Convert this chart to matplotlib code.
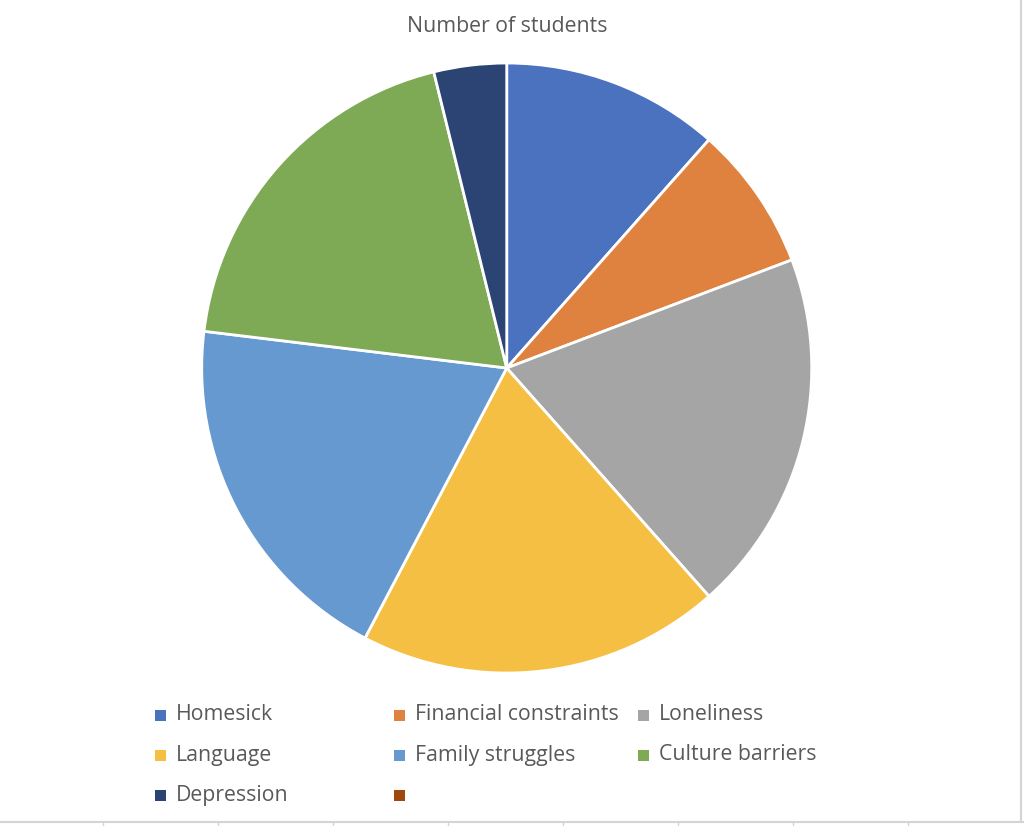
import matplotlib.pyplot as plt
from matplotlib.patches import Rectangle
from matplotlib.lines import Line2D

labels = ["Homesick", "Financial constraints", "Loneliness", "Language",
          "Family struggles", "Culture barriers", "Depression", ""]
students = [3, 2, 5, 5, 5, 5, 1, 0]
colors = ["#4A72BF", "#E0823F", "#A5A5A5", "#F4BF42",
          "#6699D0", "#7EAA55", "#2C4474", "#9E480E"]

plt.rcParams['font.family'] = ['Open Sans', 'DejaVu Sans']

fig = plt.figure(figsize=(10.24, 8.26), dpi=100)
ax = fig.add_axes([0.197, 0.1852, 0.5957, 0.7385])
ax.pie(students[:7], colors=colors[:7], startangle=90, counterclock=False,
       wedgeprops=dict(edgecolor="white", linewidth=2))
ax.set_xlim(-1.0, 1.0)
ax.set_ylim(-1.0, 1.0)
ax.set_aspect("equal")

fig.text(0.495, 0.9675, "Number of students", ha="center", va="center",
         fontsize=15.3, color="#595959")

# legend, 3 columns
col_x = [160, 399, 643]
row_y = [715, 755, 795]
for i, (lab, c) in enumerate(zip(labels, colors)):
    x = col_x[i % 3] / 1024
    y = 1 - row_y[i // 3] / 826
    fig.patches.append(Rectangle((x - 5.5 / 1024, y - 5.5 / 826), 11 / 1024, 11 / 826,
                                 transform=fig.transFigure, facecolor=c, edgecolor="none"))
    fig.text(x + 16 / 1024, y, lab, ha="left", va="center", fontsize=15.3, color="#595959")

# sheet grid remnants
by = 1 - 822 / 826
fig.lines.append(Line2D([0, 1], [by, by], transform=fig.transFigure, color="#d4d4d4", lw=1.5))
fig.lines.append(Line2D([1021 / 1024, 1021 / 1024], [by, 1], transform=fig.transFigure,
                        color="#d4d4d4", lw=1.5))
for tx in [103, 218, 333, 448, 563, 678, 793, 908]:
    fig.lines.append(Line2D([tx / 1024, tx / 1024], [0, by], transform=fig.transFigure,
                            color="#d4d4d4", lw=1))

fig.savefig("out.png", dpi=100)
